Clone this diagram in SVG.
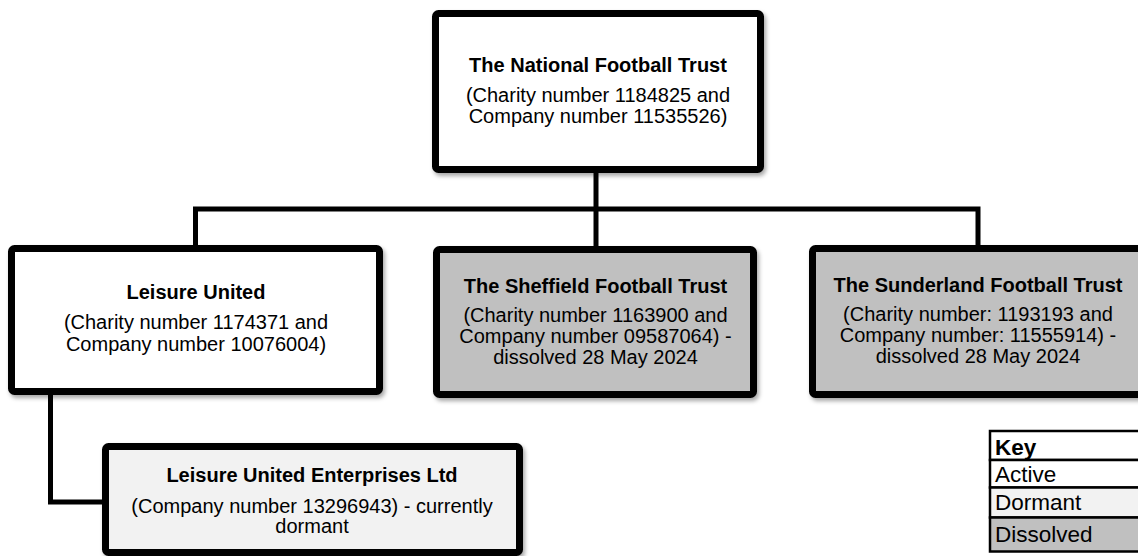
<svg xmlns="http://www.w3.org/2000/svg" width="1138" height="556" viewBox="0 0 1138 556">
<defs>
<filter id="sh" x="-10%" y="-10%" width="125%" height="130%">
<feDropShadow dx="2" dy="3" stdDeviation="2" flood-color="#000" flood-opacity="0.35"/>
</filter>
<style>
.box{stroke:#000;stroke-width:7;filter:url(#sh)}
.active{fill:#fff}
.dormant{fill:#f2f2f2}
.dissolved{fill:#c0c0c0}
.conn{fill:none;stroke:#000;stroke-width:5;stroke-linejoin:miter}
text{font-family:"Liberation Sans",Arial,sans-serif;fill:#000;text-anchor:middle}
.t{font-weight:bold;font-size:20px}
.s{font-size:20px}
.k{font-size:22.5px;text-anchor:start}
.key{stroke:#000;stroke-width:2.5}
</style>
</defs>
<rect width="1138" height="556" fill="#fff"/>
<g id="connectors">
<path class="conn" d="M596 170 V209"/>
<path class="conn" d="M195.5 248 V209 H978 V248"/>
<path class="conn" d="M596 209 V249"/>
<path class="conn" d="M50.5 392 V502 H106"/>
</g>
<g id="national">
<rect class="box active" x="435.5" y="13.5" width="325" height="156" rx="3"/>
<text class="t" x="598" y="72">The National Football Trust</text>
<text class="s" x="598" y="102">(Charity number 1184825 and</text>
<text class="s" x="598" y="123">Company number 11535526)</text>
</g>
<g id="leisure-united">
<rect class="box active" x="11.5" y="248.5" width="368" height="143" rx="3"/>
<text class="t" x="196" y="299">Leisure United</text>
<text class="s" x="196" y="329">(Charity number 1174371 and</text>
<text class="s" x="196" y="351">Company number 10076004)</text>
</g>
<g id="sheffield">
<rect class="box dissolved" x="436.5" y="249.5" width="317" height="145" rx="3"/>
<text class="t" x="595.5" y="293">The Sheffield Football Trust</text>
<text class="s" x="595.5" y="322">(Charity number 1163900 and</text>
<text class="s" x="595.5" y="343">Company number 09587064) -</text>
<text class="s" x="595.5" y="364">dissolved 28 May 2024</text>
</g>
<g id="sunderland">
<rect class="box dissolved" x="812.5" y="248.5" width="331" height="146" rx="3"/>
<text class="t" x="978" y="292">The Sunderland Football Trust</text>
<text class="s" x="978" y="321">(Charity number: 1193193 and</text>
<text class="s" x="978" y="342">Company number: 11555914) -</text>
<text class="s" x="978" y="363">dissolved 28 May 2024</text>
</g>
<g id="enterprises">
<rect class="box dormant" x="105.5" y="446.5" width="414" height="106" rx="3"/>
<text class="t" x="312" y="482">Leisure United Enterprises Ltd</text>
<text class="s" x="312" y="513">(Company number 13296943) - currently</text>
<text class="s" x="312" y="533">dormant</text>
</g>
<g id="key">
<rect class="key" x="990" y="431" width="160" height="29" fill="#fff"/>
<rect class="key" x="990" y="460" width="160" height="27.5" fill="#fff"/>
<rect class="key" x="990" y="487.5" width="160" height="30" fill="#f2f2f2"/>
<rect class="key" x="990" y="517.5" width="160" height="34" fill="#c0c0c0"/>
<text class="k" x="995" y="455" font-weight="bold">Key</text>
<text class="k" x="995" y="482">Active</text>
<text class="k" x="995" y="510">Dormant</text>
<text class="k" x="995" y="542">Dissolved</text>
</g>
</svg>
